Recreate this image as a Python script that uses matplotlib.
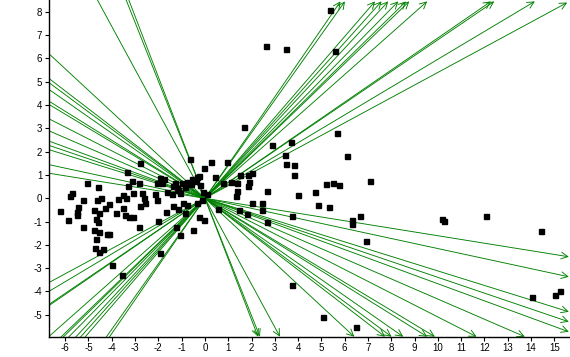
import matplotlib
matplotlib.use("Agg")
import matplotlib.pyplot as plt
from matplotlib.patches import FancyArrowPatch

plt.rcParams["font.family"] = ["Liberation Sans", "DejaVu Sans"]
plt.rcParams["axes.unicode_minus"] = False

# ── scatter points (scores) ────────────────────────────────────────────────
pts_x = [
    5.36, 2.62, 3.48, 5.58, 1.67, 5.65, 2.89, 3.69, 6.11, 3.43, 3.50, 3.83,
    3.83, 4.00, 2.67, 4.72, 5.19, 5.50, 5.76, 7.08, 4.86, 5.33, 6.65, 6.32,
    6.30, 6.91, 3.72, 2.65, 2.03, 2.43, 2.47, 1.47, 1.79, 0.57, 3.75, 5.08,
    6.48, 10.17, 10.27, 12.06, 14.42, 14.05, 15.02, 15.24,
    0.27, 0.96, -0.03, 0.43, -0.24, 1.50, 1.83, 2.00, 1.12, 1.36, 1.89, 1.86,
    0.76, 1.36, 1.32, -0.07, 0.07, -0.64, -0.54, -0.40, -0.21, -0.04, -0.24,
    -2.79, -3.33, -5.05, -4.58, -3.15, -2.82, -3.32, -1.93, -2.07, -1.86,
    -1.76, -1.29, -1.21, -1.00, -0.50, -0.36, -1.64, -1.43, -1.07, -5.72,
    -5.79, -5.22, -4.65, -4.48, -4.11, -3.72, -3.51, -3.39, -3.10, -2.72,
    -2.62, -2.58, -2.15, -2.07, -6.22, -5.87, -5.44, -5.48, -5.51, -4.76,
    -4.54, -4.68, -4.58, -4.29, -3.82, -3.51, -3.43, -3.25, -3.08, -2.79,
    -5.22, -4.75, -4.54, -4.22, -4.11, -4.69, -4.72, -4.36, -4.54, -2.82,
    -2.00, -1.67, -1.36, -1.15, -0.93, -0.79, -0.53, -1.07, -1.26, -1.93,
    -4.00, -3.58, -0.86, -1.36, -1.15, -0.79, -0.60, -0.86, -0.14, -0.36,
]
pts_y = [
    8.08, 6.54, 6.39, 6.32, 3.05, 2.79, 2.29, 2.40, 1.82, 1.86, 1.47, 1.43,
    1.00, 0.14, 0.30, 0.28, 0.60, 0.64, 0.57, 0.75, -0.29, -0.39, -0.76, -0.93,
    -1.12, -1.82, -0.76, -1.02, -0.21, -0.21, -0.52, -0.52, -0.67, -0.47, -3.73, -5.08,
    -5.51, -0.90, -0.99, -0.76, -1.42, -4.25, -4.15, -3.98,
    1.54, 1.54, 1.29, 0.90, 0.95, 1.00, 1.00, 1.09, 0.69, 0.67, 0.71, 0.54,
    0.64, 0.33, 0.10, 0.28, 0.18, 1.67, 0.81, 0.74, 0.57, -0.93, -0.82,
    1.50, 1.13, 0.67, 0.47, 0.74, 0.67, 0.53, 0.86, 0.64, 0.67,
    0.82, 0.64, 0.43, 0.67, 0.79, 0.93, 0.28, 0.18, 0.21, 0.21,
    0.10, -0.07, -0.07, 0.00, -0.24, -0.04, 0.14, 0.00, 0.21, 0.21,
    0.00, -0.19, 0.18, -0.07, -0.55, -0.93, -0.39, -0.57, -0.73, -0.50,
    -0.62, -0.90, -1.00, -0.43, -0.64, -0.43, -0.72, -0.79, -0.82, -0.33,
    -1.24, -1.36, -1.46, -1.55, -1.55, -1.76, -2.12, -2.18, -2.32, -1.22,
    -0.96, -0.59, -0.33, -0.45, -0.19, -0.29, -1.36, -1.59, -1.22, -2.36,
    -2.86, -3.29, -0.64, 0.53, 0.36, 0.71, 0.61, 0.50, -0.07, -0.21,
]

# ── loading directions: arrow tips where they leave the plot ───────────────
head_x = [
    5.82, 6.01, 7.30, 7.58, 7.87, 8.30, 8.63, 8.77, 9.54, 12.28, 12.42, 14.16, 15.55,
    2.28, 2.36, 3.22, 6.41, 7.73, 8.01, 8.51, 9.54, 9.87, 11.66, 13.73,
    15.62, 15.62, 15.62, 15.62, 15.62,
]
head_y = [
    8.45, 8.45, 8.45, 8.45, 8.45, 8.45, 8.45, 8.45, 8.45, 8.45, 8.45, 8.45, 8.40,
    -5.94, -5.94, -5.94, -5.94, -5.94, -5.94, -5.94, -5.94, -5.94, -5.94, -5.94,
    -2.51, -3.37, -4.87, -5.30, -5.73,
]

xticks = list(range(-6, 16))
yticks = list(range(-5, 9))

GREEN = "#008000"

fig = plt.figure(figsize=(5.7, 3.57), dpi=100)
ax = fig.add_axes([49.3 / 570, 20.3 / 357, 1 - 49.3 / 570, 1 - 20.3 / 357])
ax.set_xlim(-6.68, 15.67)
ax.set_ylim(-5.94, 8.51)

# each loading is a line through the origin, head only on the positive end
for hx, hy in zip(head_x, head_y):
    arr = FancyArrowPatch((-3 * hx, -3 * hy), (hx, hy), arrowstyle="->",
                          mutation_scale=12, color=GREEN, lw=0.65,
                          shrinkA=0, shrinkB=0, zorder=2)
    ax.add_patch(arr)

ax.plot(pts_x, pts_y, "s", color="black", ms=3.6, mec="black", zorder=3)

ax.spines["top"].set_visible(False)
ax.spines["right"].set_visible(False)
for s in ("left", "bottom"):
    ax.spines[s].set_linewidth(1.0)
ax.set_xticks(xticks)
ax.set_yticks(yticks)
ax.tick_params(axis="both", length=3, width=0.8, labelsize=7)
ax.tick_params(axis="x", pad=1.5)
ax.tick_params(axis="y", pad=2)

fig.savefig("out.png", dpi=100)
